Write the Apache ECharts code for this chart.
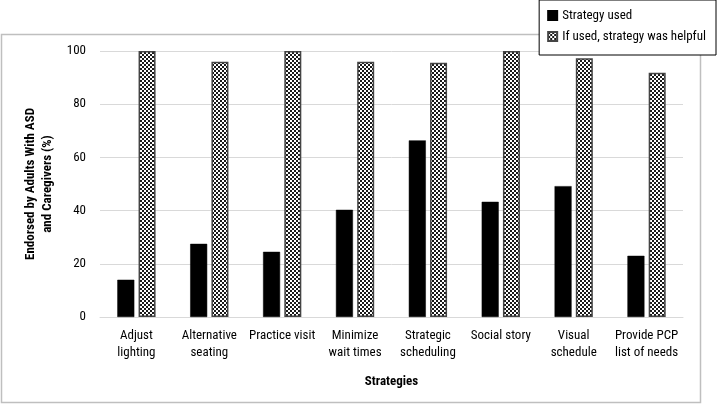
<!DOCTYPE html>
<html><head><meta charset="utf-8">
<script src="https://cdn.jsdelivr.net/npm/echarts@6/dist/echarts.min.js"></script>
<style>html,body{margin:0;padding:0;background:#fff}#c{width:723px;height:404px}</style>
</head><body><div id="c"></div>
<script>
const categories = ['Adjust\nlighting','Alternative\nseating','Practice visit','Minimize\nwait times','Strategic\nscheduling','Social story','Visual\nschedule','Provide PCP\nlist of needs'];
const strategyUsed = [14, 27.5, 24.5, 40.3, 66.4, 43.3, 49.2, 23];
const helpful = [100, 96, 100, 96, 95.6, 100, 97.3, 91.8];
const yTicks = [0, 20, 40, 60, 80, 100];
const seriesNames = ['Strategy used', 'If used, strategy was helpful'];

const FONT = "'Roboto Condensed', 'Liberation Sans', sans-serif";
const pc = document.createElement('canvas');
pc.width = 4; pc.height = 4;
const g = pc.getContext('2d');
g.fillStyle = '#fff'; g.fillRect(0,0,4,4);
g.fillStyle = '#1a1a1a';
g.fillRect(0,0,2,2); g.fillRect(2,2,2,2);
const hatch = {image: pc, repeat: 'repeat'};

const chart = echarts.init(document.getElementById('c'), null, {renderer:'canvas'});
chart.setOption({
  animation: false,
  backgroundColor: '#fff',
  textStyle: {fontFamily: FONT},
  graphic: [
    {type:'rect', shape:{x:1.5, y:34.5, width:699, height:368}, style:{fill:'none', stroke:'#bfbfbf', lineWidth:1.5}, z:-1}
  ],
  legend: {
    orient: 'vertical', right: 7, top: 0,
    padding: [9, 10, 12, 8],
    backgroundColor: '#fff', borderColor: '#000', borderWidth: 1,
    itemWidth: 9, itemHeight: 9, itemGap: 8,
    textStyle: {fontFamily: FONT, fontSize: 13, color: '#000'},
    data: [
      {name: seriesNames[0], icon: 'rect'},
      {name: seriesNames[1], icon: 'rect'}
    ]
  },
  grid: {left: 100, right: 40, top: 51, bottom: 87},
  xAxis: {
    type: 'category', data: categories,
    name: 'Strategies', nameLocation: 'middle', nameGap: 58,
    nameTextStyle: {fontFamily: FONT, fontSize: 13, fontWeight: 'bold', color: '#000'},
    axisLine: {show: true, lineStyle: {color: '#d9d9d9'}},
    axisTick: {show: false},
    axisLabel: {interval: 0, fontFamily: FONT, fontSize: 13, color: '#000', lineHeight: 17, margin: 10}
  },
  yAxis: {
    type: 'value', min: 0, max: 100, interval: 20,
    name: 'Endorsed by Adults With ASD\nand Caregivers (%)', nameLocation: 'middle', nameGap: 41,
    nameTextStyle: {fontFamily: FONT, fontSize: 13, fontWeight: 'bold', color: '#000', lineHeight: 17},
    axisLine: {show: false}, axisTick: {show: false},
    axisLabel: {fontFamily: FONT, fontSize: 13, color: '#000', margin: 14,
      formatter: v => yTicks.includes(v) ? String(v) : ''},
    splitLine: {lineStyle: {color: '#d9d9d9', width: 1}}
  },
  series: [
    {name: seriesNames[0], type: 'bar', data: strategyUsed, barWidth: 17, barGap: '25%',
     itemStyle: {color: '#000', borderColor: '#000', borderWidth: 0.5}},
    {name: seriesNames[1], type: 'bar', data: helpful, barWidth: 17,
     itemStyle: {color: hatch, borderColor: '#444', borderWidth: 1.5}}
  ]
});
</script></body></html>
